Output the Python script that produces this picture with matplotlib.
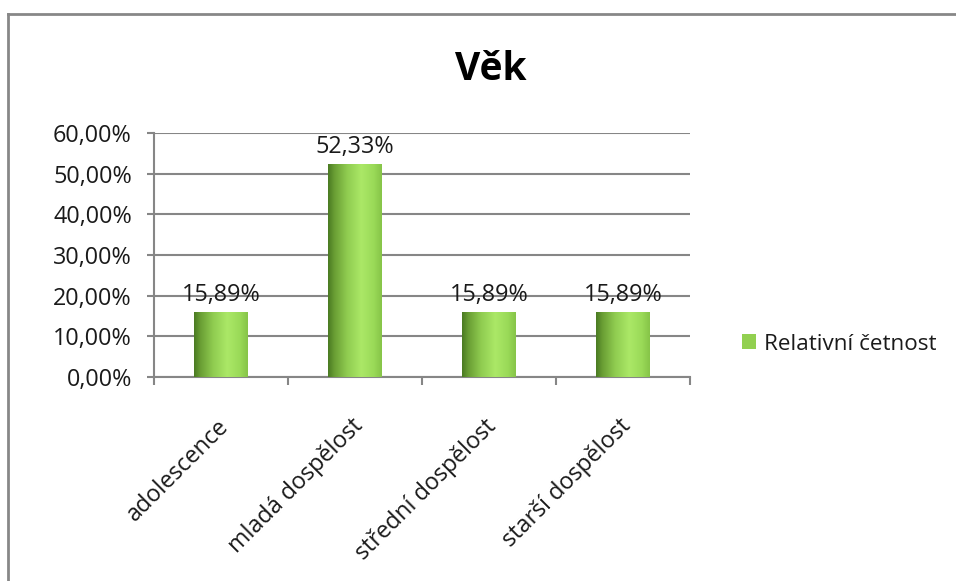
import matplotlib
matplotlib.use("Agg")
import matplotlib.pyplot as plt
import numpy as np
from matplotlib.colors import LinearSegmentedColormap
from matplotlib.patches import Patch
from matplotlib.lines import Line2D
from matplotlib.ticker import FuncFormatter, MultipleLocator

categories = ["adolescence", "mladá dospělost", "střední dospělost", "starší dospělost"]
values = [15.89, 52.33, 15.89, 15.89]
value_labels = ["15,89%", "52,33%", "15,89%", "15,89%"]
series_name = "Relativní četnost"
title = "Věk"

plt.rcParams['font.family'] = ['Open Sans', 'DejaVu Sans']

W, H = 956, 581
fig = plt.figure(figsize=(W / 100, H / 100), dpi=100)
fig.patch.set_facecolor('white')

# outer chart frame (only top/left visible)
fc = '#878787'
fig.add_artist(Line2D([8 / W, 8 / W], [-0.05, 1 - 14 / H], transform=fig.transFigure,
                      color=fc, linewidth=2.0, solid_capstyle='projecting'))
fig.add_artist(Line2D([8 / W, 1.05], [1 - 14 / H, 1 - 14 / H], transform=fig.transFigure,
                      color=fc, linewidth=2.0, solid_capstyle='projecting'))

left, right = 154 / W, 690 / W
bottom, top = 1 - 377 / H, 1 - 133 / H
ax = fig.add_axes([left, bottom, right - left, top - bottom])

x = np.arange(len(categories))

grid_c = '#868686'
txt_c = '#1a1a1a'
fs = 16.8
ax.yaxis.set_major_locator(MultipleLocator(10))
ax.yaxis.set_major_formatter(FuncFormatter(lambda v, p: f"{v:.2f}".replace('.', ',') + "%"))
ax.grid(axis='y', color=grid_c, linewidth=1.5, zorder=0)
ax.set_axisbelow(True)
for s in ['top', 'right']:
    ax.spines[s].set_visible(False)
for s in ['left', 'bottom']:
    ax.spines[s].set_color(grid_c)
    ax.spines[s].set_linewidth(1.5)

ax.tick_params(axis='y', direction='out', length=5, width=1.5, color=grid_c,
               labelsize=fs, labelcolor=txt_c, pad=11)
ax.set_yticks(np.arange(0, 61, 10))
ax.set_xticks(np.arange(-0.5, len(categories), 1.0))
ax.tick_params(axis='x', direction='out', length=6, width=1.5, color=grid_c, labelbottom=False)

# category labels rotated
for i, c in enumerate(categories):
    ax.annotate(c, xy=(i, 0), xycoords='data', xytext=(3, -33), textcoords='offset points',
                rotation=45, ha='right', va='center', rotation_mode='anchor',
                fontsize=fs, color=txt_c, annotation_clip=False)

cmap = LinearSegmentedColormap.from_list('cyl', [
    (0.0, '#4a7a22'), (0.12, '#6a9e34'), (0.35, '#8fcb50'),
    (0.62, '#abe867'), (0.85, '#9ada58'), (1.0, '#86c448')])

bw = 0.4
bars = ax.bar(x, values, width=bw, color='#92d050', edgecolor='none', zorder=2)
grad = np.linspace(0, 1, 256).reshape(1, -1)
for b in bars:
    x0, y0 = b.get_x(), b.get_y()
    im = ax.imshow(grad, cmap=cmap, aspect='auto', extent=[x0, x0 + b.get_width(), y0, y0 + b.get_height()],
                   zorder=3, interpolation='bicubic')
    im.set_clip_path(b)

ax.set_xlim(-0.5, len(categories) - 0.5)
ax.set_ylim(0, 60)

for xi, v, lab in zip(x, values, value_labels):
    ax.annotate(lab, xy=(xi, v), xytext=(0, 4), textcoords='offset points',
                ha='center', va='bottom', fontsize=fs, color=txt_c, zorder=4)

fig.text(491 / W, 1 - 80 / H, title, ha='center', va='baseline', fontsize=28,
         fontweight='bold', color='black')

fig.legend(handles=[Patch(facecolor='#92d050', edgecolor='none', label=series_name)],
           loc='center left', bbox_to_anchor=(722 / W, 1 - 344 / H), frameon=False,
           fontsize=16.2, handlelength=0.62, handleheight=0.62, handletextpad=0.35,
           labelcolor=txt_c)

fig.savefig('out.png', dpi=100, facecolor='white')
